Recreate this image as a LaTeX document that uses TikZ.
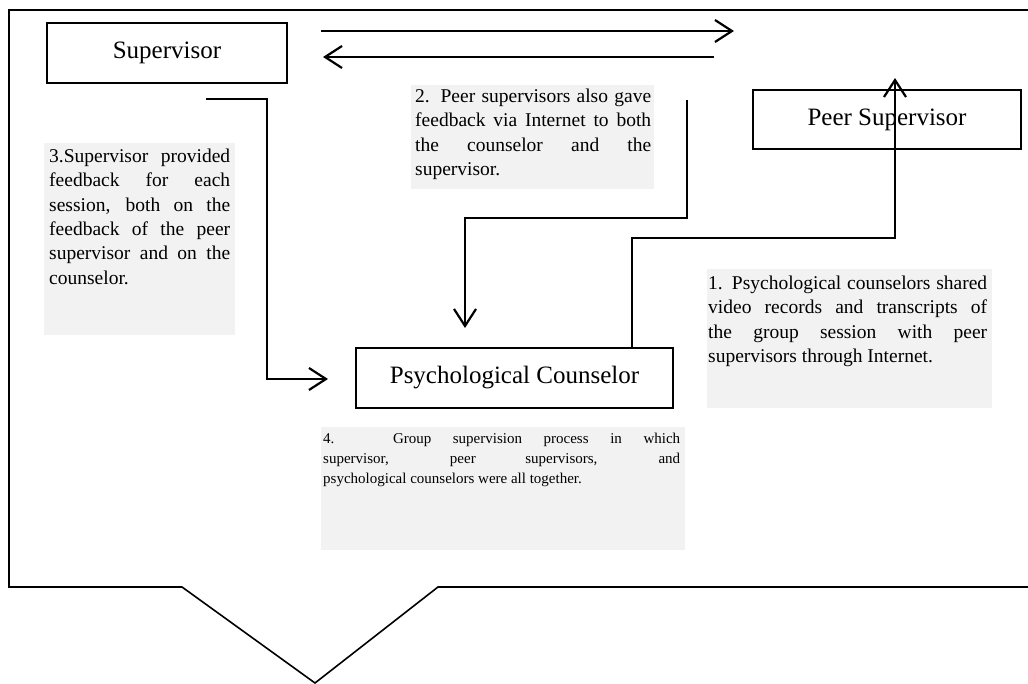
\documentclass[tikz,border=0pt]{standalone}
\usepackage{fontspec}
\setmainfont{Liberation Serif}
\usetikzlibrary{arrows.meta}
\definecolor{notegray}{RGB}{242,242,242}
\begin{document}
\begin{tikzpicture}[x=1pt,y=-1pt,
  frame/.style={line width=1.6pt, line join=miter},
  lbl/.style={draw, line width=1.6pt, inner sep=0pt, font=\fontsize{25}{30}\selectfont},
  conn/.style={line width=2.2pt, line join=miter},
  tip/.style={-{Straight Barb[length=17pt,width=22pt]}},
  notebg/.style={fill=notegray},
  note/.style={anchor=north west, inner sep=0pt, align=justify, font=\fontsize{19.5}{24.4}\selectfont},
  smallnote/.style={anchor=north west, inner sep=0pt, align=justify, font=\fontsize{15}{20}\selectfont},
]
\useasboundingbox (0,0) rectangle (1028,684);

% outer callout frame
\draw[frame] (1040,10) -- (9,10) -- (9,587) -- (182,587) -- (315,683) -- (438,587) -- (1040,587);

% grey note backgrounds
\fill[notebg] (44,143) rectangle (235,335);
\fill[notebg] (411,85) rectangle (654,189);
\fill[notebg] (707,269) rectangle (992,408);
\fill[notebg] (321,427) rectangle (685,550);

% main boxes
\node[lbl, minimum width=240pt, minimum height=60pt] (sup) at (167,53) {Supervisor};
\node[lbl, minimum width=268pt, minimum height=59pt] (peer) at (887,119.5) {Peer Supervisor};
\node[lbl, minimum width=317pt, minimum height=60pt] (psy) at (514.5,378) {Psychological Counselor};

% notes
\node[note, text width=181pt] (n3) at (49,145) {\strut 3.Supervisor provided\linebreak feedback for each\linebreak session, both on the\linebreak feedback of the peer\linebreak supervisor and on the\linebreak counselor.};
\node[note, text width=236pt] (n2) at (415,85) {\strut 2. Peer supervisors also gave\linebreak feedback via Internet to both\linebreak the counselor and the\linebreak supervisor.};
\node[note, text width=279pt] (n1) at (708,272) {\strut 1. Psychological counselors shared\linebreak video records and transcripts of\linebreak the group session with peer\linebreak supervisors through Internet.};
\node[smallnote, text width=357pt] (n4) at (323,429) {\strut 4. Group supervision process in which\linebreak supervisor, peer supervisors, and\linebreak psychological counselors were all together.};

% coordinates for connector ends
\coordinate (t1s) at (321,31);
\coordinate (t1e) at (734,31);
\coordinate (t2s) at (714,57);
\coordinate (t2e) at (323,57);
\coordinate (c1m) at (632,238);
\coordinate (c1b) at (895,238);
\coordinate (c1e) at (895,78);
\coordinate (c2s) at (687,100);
\coordinate (c2b) at (465,218);
\coordinate (c2e) at (465,328);
\coordinate (c3s) at (206,99);
\coordinate (c3b) at (267,379);
\coordinate (c3e) at (328,379);

% top exchange arrows
\draw[conn, tip] (t1s) -- (t1e);
\draw[conn, tip] (t2s) -- (t2e);

% 1: counselor -> peer supervisor
\draw[conn, tip] (psy.north -| c1m) -- (c1m) -- (c1b) -- (c1e);

% 2: peer feedback -> counselor
\draw[conn, tip] (c2s) |- (c2b) -- (c2e);

% 3: supervisor -> counselor
\draw[conn, tip] (c3s) -| (c3b) -- (c3e);
\end{tikzpicture}
\end{document}
